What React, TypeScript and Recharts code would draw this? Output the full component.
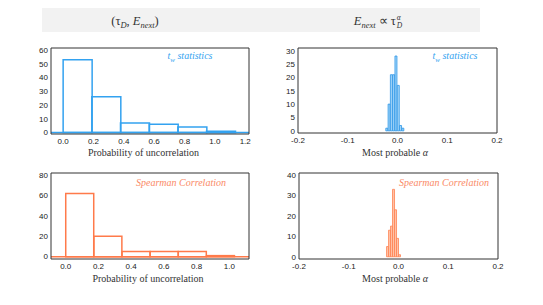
import React from 'react';
import { ComposedChart, Bar, XAxis, YAxis, ReferenceLine } from 'recharts';

// ---------- data ----------
const twProbBins = [0.0945, 0.2835, 0.4725, 0.6615, 0.8505, 1.0395];
const twProbCounts = [53, 26, 7, 6, 4, 1];
const spProbBins = [0.086, 0.258, 0.43, 0.602, 0.774, 0.946];
const spProbCounts = [62, 20, 5, 5, 5, 1];
const twAlphaBins = [-0.0212, -0.0166, -0.012, -0.0074, -0.0028, 0.0018, 0.0064, 0.011];
const twAlphaCounts = [1, 10, 21, 21, 28, 17, 2, 1];
const spAlphaBins = [-0.022, -0.018, -0.014, -0.01, -0.006, -0.002, 0.002];
const spAlphaCounts = [5, 13, 15, 33, 23, 9, 1];

const probTicksTop = [0, 0.2, 0.4, 0.6, 0.8, 1.0, 1.2];
const probTicksBottom = [0, 0.2, 0.4, 0.6, 0.8, 1.0];
const alphaTicks = [-0.2, -0.1, 0, 0.1, 0.2];
const twProbYTicks = [0, 10, 20, 30, 40, 50, 60];
const twAlphaYTicks = [0, 5, 10, 15, 20, 25, 30];
const spProbYTicks = [0, 20, 40, 60, 80];
const spAlphaYTicks = [0, 10, 20, 30, 40];

const titles = {
  prob: 'Probability of uncorrelation',
  alpha: 'Most probable α',
  tw: 'statistics',
  sp: 'Spearman Correlation',
};

function range(a: number, b: number, step: number): number[] {
  const out: number[] = [];
  const n = Math.round((b - a) / step);
  for (let i = 0; i <= n; i++) out.push(Math.round((a + i * step) * 10000) / 10000);
  return out;
}

const BLUE = '#33a2f0';
const BLUE_DARK = '#2a95e8';
const BLUE_FILL = '#a8d7f8';
const CORAL = '#ff7a4a';
const CORAL_DARK = '#ff8252';
const CORAL_FILL = '#ffc3a8';
const AXIS = '#333333';

type PanelProps = {
  plot: { x: number; y: number; w: number; h: number };
  xDomain: [number, number];
  yDomain: [number, number];
  xTicks: number[];
  yTicks: number[];
  xMinor: number[];
  yMinor: number[];
  bins: number[];
  counts: number[];
  stroke: string;
  fill: string;
  strokeWidth: number;
  baseline: boolean;
};

function Panel(p: PanelProps) {
  const data = p.bins.map((x, i) => ({ x, n: p.counts[i] }));
  const ML = 40, MT = 10, MR = 10, XB = 30;
  const width = p.plot.w + ML + MR;
  const height = p.plot.h + MT + XB;
  const tickStyle = { fontSize: 8, fontFamily: 'Liberation Sans, Arial, sans-serif', fill: '#222' };
  const common = { type: 'number' as const, allowDataOverflow: true, interval: 0 as const };
  return (
    <div style={{ position: 'absolute', left: p.plot.x - ML, top: p.plot.y - MT }}>
      <ComposedChart
        width={width}
        height={height}
        data={data}
        margin={{ top: MT, right: MR, bottom: 0, left: 0 }}
        barCategoryGap={0}
        barGap={0}
      >
        <XAxis xAxisId="x" dataKey="x" {...common} domain={p.xDomain} ticks={p.xTicks}
          tickFormatter={(v: number) => v.toFixed(1)} tickLine={false} axisLine={false}
          tickSize={0} tickMargin={4} height={XB} tick={tickStyle} />
        <XAxis xAxisId="bmaj" {...common} domain={p.xDomain} ticks={p.xTicks} orientation="bottom" mirror
          height={1} tick={false} tickSize={4} stroke={AXIS} />
        <XAxis xAxisId="bmin" {...common} domain={p.xDomain} ticks={p.xMinor} orientation="bottom" mirror
          height={1} tick={false} tickSize={2} stroke={AXIS} axisLine={false} />
        <XAxis xAxisId="tmaj" {...common} domain={p.xDomain} ticks={p.xTicks} orientation="top" mirror
          height={1} tick={false} tickSize={4} stroke={AXIS} />
        <XAxis xAxisId="tmin" {...common} domain={p.xDomain} ticks={p.xMinor} orientation="top" mirror
          height={1} tick={false} tickSize={2} stroke={AXIS} axisLine={false} />

        <YAxis yAxisId="y" {...common} domain={p.yDomain} ticks={p.yTicks} tickLine={false} axisLine={false}
          tickSize={0} tickMargin={3} width={ML} tick={tickStyle} />
        <YAxis yAxisId="lmaj" {...common} domain={p.yDomain} ticks={p.yTicks} orientation="left" mirror
          width={1} tick={false} tickSize={4} stroke={AXIS} />
        <YAxis yAxisId="lmin" {...common} domain={p.yDomain} ticks={p.yMinor} orientation="left" mirror
          width={1} tick={false} tickSize={2} stroke={AXIS} axisLine={false} />
        <YAxis yAxisId="rmaj" {...common} domain={p.yDomain} ticks={p.yTicks} orientation="right" mirror
          width={1} tick={false} tickSize={4} stroke={AXIS} />
        <YAxis yAxisId="rmin" {...common} domain={p.yDomain} ticks={p.yMinor} orientation="right" mirror
          width={1} tick={false} tickSize={2} stroke={AXIS} axisLine={false} />

        {p.baseline && (
          <ReferenceLine xAxisId="x" yAxisId="y" y={0} stroke={p.stroke} strokeWidth={p.strokeWidth} />
        )}
        <Bar xAxisId="x" yAxisId="y" dataKey="n" fill={p.fill} stroke={p.stroke}
          strokeWidth={p.strokeWidth} isAnimationActive={false} />
      </ComposedChart>
    </div>
  );
}

const serif = 'Liberation Serif, "Times New Roman", serif';

function Txt({ x, y, children, style }: { x: number; y: number; children: React.ReactNode; style?: React.CSSProperties }) {
  return (
    <div style={{
      position: 'absolute', left: x, top: y, transform: 'translate(-50%, -50%)',
      whiteSpace: 'nowrap', fontFamily: serif, lineHeight: 1, ...style,
    }}>{children}</div>
  );
}

export default function App() {
  return (
    <div style={{ position: 'absolute', left: 0, top: 0, width: 543, height: 305, background: '#fff', overflow: 'hidden' }}>
      <div style={{ position: 'absolute', left: 42, top: 8, width: 438, height: 24, background: '#f2f2f2' }} />
      <Txt x={135} y={22} style={{ fontSize: 12.5, color: '#333' }}>
        (τ<sub style={{ fontSize: 8.5 }}><i>D</i></sub>, <i>E</i><sub style={{ fontSize: 8.5 }}><i>next</i></sub>)
      </Txt>
      <Txt x={378} y={22} style={{ fontSize: 12.5, color: '#333' }}>
        <i>E</i><sub style={{ fontSize: 8.5 }}><i>next</i></sub> ∝ τ
        <span style={{ display: 'inline-block', verticalAlign: 'middle', fontSize: 7.5, lineHeight: 1, marginLeft: 1 }}>
          <i style={{ display: 'block' }}>α</i>
          <i style={{ display: 'block' }}>D</i>
        </span>
      </Txt>

      <Panel plot={{ x: 51, y: 48, w: 198, h: 86 }} xDomain={[-0.08, 1.225]} yDomain={[-1, 61.5]}
        xTicks={probTicksTop} yTicks={twProbYTicks} xMinor={range(-0.05, 1.2, 0.05)} yMinor={range(0, 60, 2)}
        bins={twProbBins} counts={twProbCounts} stroke={BLUE} fill="none" strokeWidth={1.5} baseline />
      <Panel plot={{ x: 298, y: 48, w: 199, h: 85 }} xDomain={[-0.2, 0.2]} yDomain={[-0.8, 31]}
        xTicks={alphaTicks} yTicks={twAlphaYTicks} xMinor={range(-0.2, 0.2, 0.01)} yMinor={range(0, 30, 1)}
        bins={twAlphaBins} counts={twAlphaCounts} stroke={BLUE_DARK} fill={BLUE_FILL} strokeWidth={0.8} baseline={false} />
      <Panel plot={{ x: 51, y: 172.5, w: 198, h: 86 }} xDomain={[-0.09, 1.12]} yDomain={[-2.3, 82]}
        xTicks={probTicksBottom} yTicks={spProbYTicks} xMinor={range(-0.05, 1.1, 0.05)} yMinor={range(0, 80, 5)}
        bins={spProbBins} counts={spProbCounts} stroke={CORAL} fill="none" strokeWidth={1.5} baseline />
      <Panel plot={{ x: 299, y: 172.5, w: 199, h: 86 }} xDomain={[-0.2, 0.2]} yDomain={[-1.1, 41]}
        xTicks={alphaTicks} yTicks={spAlphaYTicks} xMinor={range(-0.2, 0.2, 0.01)} yMinor={range(0, 40, 2)}
        bins={spAlphaBins} counts={spAlphaCounts} stroke={CORAL_DARK} fill={CORAL_FILL} strokeWidth={0.8} baseline={false} />

      <Txt x={190} y={57} style={{ fontSize: 10, color: BLUE, fontStyle: 'italic' }}>
        t<sub style={{ fontSize: 7 }}>w</sub> {titles.tw}
      </Txt>
      <Txt x={455} y={57} style={{ fontSize: 10, color: BLUE, fontStyle: 'italic' }}>
        t<sub style={{ fontSize: 7 }}>w</sub> {titles.tw}
      </Txt>
      <Txt x={181} y={183} style={{ fontSize: 10, color: '#fa8a66', fontStyle: 'italic' }}>{titles.sp}</Txt>
      <Txt x={444} y={183} style={{ fontSize: 10, color: '#fa8a66', fontStyle: 'italic' }}>{titles.sp}</Txt>

      <Txt x={143.5} y={153} style={{ fontSize: 10, color: '#333' }}>{titles.prob}</Txt>
      <Txt x={148} y={278.5} style={{ fontSize: 10, color: '#333' }}>{titles.prob}</Txt>
      <Txt x={395} y={153} style={{ fontSize: 10, color: '#333' }}>Most probable <i>α</i></Txt>
      <Txt x={395} y={278.5} style={{ fontSize: 10, color: '#333' }}>Most probable <i>α</i></Txt>
    </div>
  );
}
